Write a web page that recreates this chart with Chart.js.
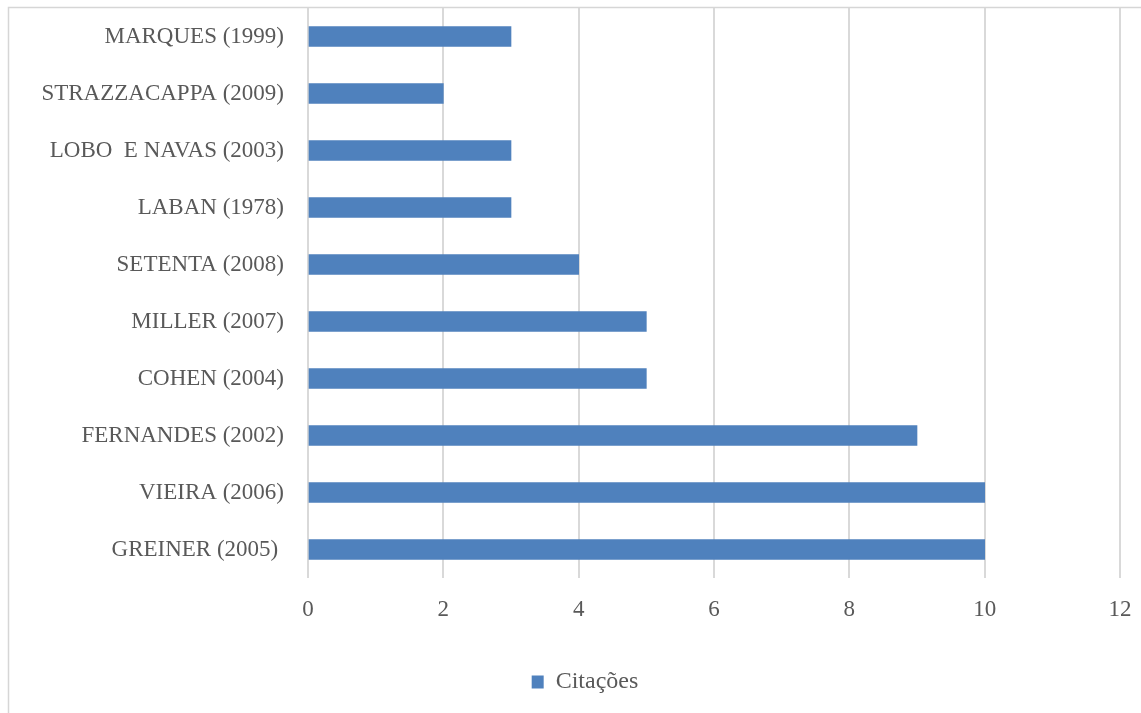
<!DOCTYPE html>
<html>
<head>
<meta charset="utf-8">
<script src="https://cdn.jsdelivr.net/npm/chart.js@4.4.1/dist/chart.umd.min.js"></script>
<style>
  html, body { margin: 0; padding: 0; background: #ffffff; }
  #wrap { width: 1141px; height: 713px; position: relative; }
</style>
</head>
<body>
<div id="wrap"><canvas id="chart" width="1141" height="713"></canvas></div>
<script>
// Authors and their citation counts (top to bottom)
const authors = [
  'MARQUES (1999)',
  'STRAZZACAPPA (2009)',
  'LOBO  E NAVAS (2003)',
  'LABAN (1978)',
  'SETENTA (2008)',
  'MILLER (2007)',
  'COHEN (2004)',
  'FERNANDES (2002)',
  'VIEIRA (2006)',
  'GREINER (2005) '
];
const citations = [3, 2, 3, 3, 4, 5, 5, 9, 10, 10];
const seriesName = 'Citações';
const xTicks = [0, 2, 4, 6, 8, 10, 12];

const FONT = "'Liberation Serif', 'DejaVu Serif', serif";
const TEXT = '#595959';
const GRID = '#d9d9d9';
const BAR = '#4f81bd';

// Thin frame along the top and left of the page
const frame = {
  id: 'frame',
  beforeDraw(chart) {
    const ctx = chart.ctx;
    ctx.save();
    ctx.strokeStyle = '#d6d6d6';
    ctx.lineWidth = 1.5;
    ctx.beginPath();
    ctx.moveTo(8.5, 713);
    ctx.lineTo(8.5, 7.5);
    ctx.lineTo(1141, 7.5);
    ctx.stroke();
    ctx.restore();
  }
};

// Nudge the legend to the right so it sits under the middle of the full frame
const legendShift = {
  id: 'legendShift',
  afterLayout(chart) {
    const lg = chart.legend;
    if (lg) { lg.left += 21; lg.right += 21; }
  }
};

new Chart(document.getElementById('chart'), {
  type: 'bar',
  data: {
    labels: authors,
    datasets: [{
      label: seriesName,
      data: citations,
      backgroundColor: BAR,
      borderWidth: 0,
      barThickness: 20
    }]
  },
  options: {
    indexAxis: 'y',
    responsive: false,
    animation: false,
    layout: { padding: { top: 8, left: 8, right: 21, bottom: 9 } },
    scales: {
      x: {
        min: 0,
        max: 12,
        afterBuildTicks(scale) { scale.ticks = xTicks.map(v => ({ value: v })); },
        afterFit(scale) {
          scale.height = 82;
          scale.paddingLeft = 0;
          scale.paddingRight = 0;
        },
        grid: { color: GRID, lineWidth: 2, drawTicks: false },
        border: { display: false },
        ticks: { color: TEXT, font: { family: FONT, size: 23 }, padding: 18 }
      },
      y: {
        afterFit(scale) {
          scale.width = 300;
          scale.paddingTop = 0;
          scale.paddingBottom = 0;
        },
        grid: { display: false, drawTicks: false },
        border: { display: false },
        ticks: { color: TEXT, font: { family: FONT, size: 23 }, padding: 24, autoSkip: false }
      }
    },
    plugins: {
      legend: {
        position: 'bottom',
        labels: {
          color: TEXT,
          font: { family: FONT, size: 24 },
          boxWidth: 12,
          boxHeight: 13,
          padding: 10
        }
      },
      tooltip: { enabled: false }
    }
  },
  plugins: [frame, legendShift]
});
</script>
</body>
</html>
